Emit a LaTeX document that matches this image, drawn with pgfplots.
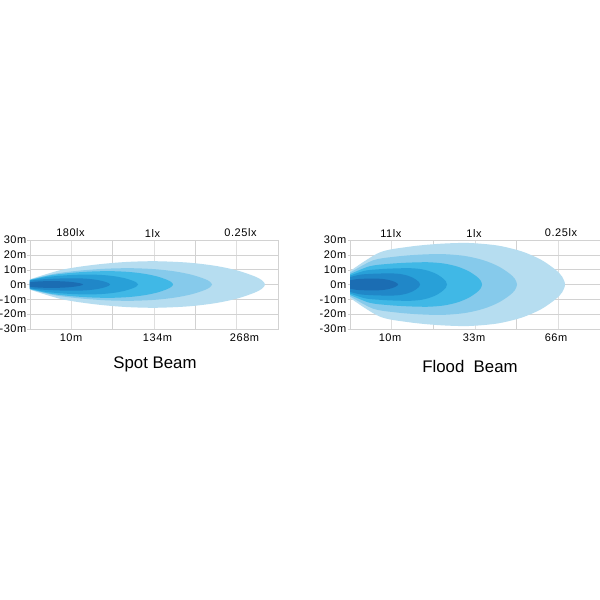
\documentclass[border=0pt]{standalone}
\usepackage{fontspec}
\setmainfont{Liberation Sans}
\newfontfamily\lblfont[LetterSpace=5]{Liberation Sans}
\usepackage{pgfplots}
\pgfplotsset{compat=1.18}
\definecolor{c1}{HTML}{B6DDF0}
\definecolor{c2}{HTML}{86CAEB}
\definecolor{c3}{HTML}{40B8E6}
\definecolor{c4}{HTML}{28A0D8}
\definecolor{c5}{HTML}{2087C8}
\definecolor{c6}{HTML}{1B6DB3}
\definecolor{gridc}{HTML}{D2D2D2}
\newcommand\lf{\lblfont\fontsize{11}{13}\selectfont}
\newcommand\tf{\fontsize{16.8}{19}\selectfont}
\pgfplotsset{beam/.style={
  scale only axis, height=89pt, ymin=-30, ymax=30, xmin=0,
  ytick={-30,-20,-10,0,10,20,30},
  yticklabels={-30m,-20m,-10m,0m,10m,20m,30m},
  yticklabel style={font=\lf, inner sep=1pt},
  xticklabels={}, xtick style={draw=none},
  ytick pos=left, tick align=outside, major tick length=2.5pt,
  ytick style={draw=gridc},
  grid=both, major grid style={draw=gridc, line width=0.6pt},
  minor grid style={draw=gridc!70, line width=0.5pt},
  axis line style={draw=gridc, line width=0.6pt},
  clip=false,
  beamfill/.style={draw=none, smooth}
}}
\begin{document}
\begin{tikzpicture}
\fill[white] (0pt,0pt) rectangle (600pt,600pt);
\path[use as bounding box] (0pt,0pt) rectangle (600pt,600pt);
% ---------------- Spot Beam ----------------
\begin{axis}[beam, at={(30pt,271pt)}, anchor=south west, width=248pt, xmax=248,
  xtick={0,82.67,165.33,248}, minor xtick={41.33,124,206.67}]
\addplot[fill=c1, beamfill] coordinates {(0,3.5) (31.3,9.84) (62.5,13.14) (93.8,15.09) (125,15.7) (158,14.76) (185.5,12.56) (207.5,9.42) (224,5.65) (231.7,2.98) (235,0) (231.7,-2.98) (224,-5.65) (207.5,-9.42) (185.5,-12.56) (158,-14.76) (125,-15.7) (93.8,-15.09) (62.5,-13.14) (31.3,-9.84) (0,-3.5)} -- cycle;
\addplot[fill=c2, beamfill] coordinates {(0,3.3) (25,7.3) (50,9.38) (75,10.62) (100,11) (124.6,10.34) (145.1,8.8) (161.5,6.6) (173.8,3.96) (179.5,2.09) (182,0) (179.5,-2.09) (173.8,-3.96) (161.5,-6.6) (145.1,-8.8) (124.6,-10.34) (100,-11) (75,-10.62) (50,-9.38) (25,-7.3) (0,-3.3)} -- cycle;
\addplot[fill=c3, beamfill] coordinates {(0,3.1) (20,6.17) (40,7.76) (60,8.71) (80,9) (98.9,8.46) (114.65,7.2) (127.25,5.4) (136.7,3.24) (141.1,1.71) (143,0) (141.1,-1.71) (136.7,-3.24) (127.25,-5.4) (114.65,-7.2) (98.9,-8.46) (80,-9) (60,-8.71) (40,-7.76) (20,-6.17) (0,-3.1)} -- cycle;
\addplot[fill=c4, beamfill] coordinates {(0,2.9) (15,4.88) (30,5.9) (45,6.51) (60,6.7) (74.4,6.3) (86.4,5.36) (96,4.02) (103.2,2.41) (106.6,1.27) (108,0) (106.6,-1.27) (103.2,-2.41) (96,-4.02) (86.4,-5.36) (74.4,-6.3) (60,-6.7) (45,-6.51) (30,-5.9) (15,-4.88) (0,-2.9)} -- cycle;
\addplot[fill=c5, beamfill] coordinates {(0,2.6) (11.25,3.43) (22.5,3.86) (33.75,4.12) (45,4.2) (55.5,3.95) (64.25,3.36) (71.25,2.52) (76.5,1.51) (78.95,0.8) (80,0) (78.95,-0.8) (76.5,-1.51) (71.25,-2.52) (64.25,-3.36) (55.5,-3.95) (45,-4.2) (33.75,-4.12) (22.5,-3.86) (11.25,-3.43) (0,-2.6)} -- cycle;
\addplot[fill=c6, beamfill] coordinates {(0,1.5) (5.5,1.92) (11,2.13) (16.5,2.26) (22,2.3) (31.3,2.16) (39.05,1.84) (45.25,1.38) (49.9,0.83) (52.07,0.44) (53,0) (52.07,-0.44) (49.9,-0.83) (45.25,-1.38) (39.05,-1.84) (31.3,-2.16) (22,-2.3) (16.5,-2.26) (11,-2.13) (5.5,-1.92) (0,-1.5)} -- cycle;
\node[font=\lf] at (axis cs:40.5,34.7) {180lx};
\node[font=\lf] at (axis cs:122.5,34.7) {1lx};
\node[font=\lf] at (axis cs:210.5,34.7) {0.25lx};
\node[font=\lf] at (axis cs:41,-36.1) {10m};
\node[font=\lf] at (axis cs:127.5,-36.1) {134m};
\node[font=\lf] at (axis cs:214.5,-36.1) {268m};
\node[font=\tf] at (axis cs:125,-53.6) {Spot Beam};
\end{axis}
% ---------------- Flood Beam ----------------
\begin{axis}[beam, at={(350pt,271pt)}, anchor=south west, width=250pt, xmax=250,
  xtick={0,83.33,166.67,250}, minor xtick={41.67,125,208.33}]
\addplot[fill=c1, beamfill] coordinates {(0,9) (29.5,21.56) (59,25.45) (88.5,27.39) (118,28) (147.1,26.32) (171.35,22.4) (190.75,16.8) (205.3,10.08) (212.1,5.32) (215,0) (212.1,-5.32) (205.3,-10.08) (190.75,-16.8) (171.35,-22.4) (147.1,-26.32) (118,-28) (88.5,-27.39) (59,-25.45) (29.5,-21.56) (0,-9)} -- cycle;
\addplot[fill=c2, beamfill] coordinates {(0,8) (23,16.26) (46,18.83) (69,20.1) (92,20.5) (114.5,19.27) (133.25,16.4) (148.25,12.3) (159.5,7.38) (164.75,3.9) (167,0) (164.75,-3.9) (159.5,-7.38) (148.25,-12.3) (133.25,-16.4) (114.5,-19.27) (92,-20.5) (69,-20.1) (46,-18.83) (23,-16.26) (0,-8)} -- cycle;
\addplot[fill=c3, beamfill] coordinates {(0,7) (19.5,12.29) (39,13.93) (58.5,14.74) (78,15) (94.2,14.1) (107.7,12) (118.5,9) (126.6,5.4) (130.4,2.85) (132,0) (130.4,-2.85) (126.6,-5.4) (118.5,-9) (107.7,-12) (94.2,-14.1) (78,-15) (58.5,-14.74) (39,-13.93) (19.5,-12.29) (0,-7)} -- cycle;
\addplot[fill=c4, beamfill] coordinates {(0,6) (15,9.31) (30,10.33) (45,10.84) (60,11) (71.1,10.34) (80.35,8.8) (87.75,6.6) (93.3,3.96) (95.9,2.09) (97,0) (95.9,-2.09) (93.3,-3.96) (87.75,-6.6) (80.35,-8.8) (71.1,-10.34) (60,-11) (45,-10.84) (30,-10.33) (15,-9.31) (0,-6)} -- cycle;
\addplot[fill=c5, beamfill] coordinates {(0,5) (10.5,6.65) (21,7.17) (31.5,7.42) (42,7.5) (50.4,7.05) (57.4,6) (63,4.5) (67.2,2.7) (69.2,1.43) (70,0) (69.2,-1.43) (67.2,-2.7) (63,-4.5) (57.4,-6) (50.4,-7.05) (42,-7.5) (31.5,-7.42) (21,-7.17) (10.5,-6.65) (0,-5)} -- cycle;
\addplot[fill=c6, beamfill] coordinates {(0,2.8) (6.25,3.59) (12.5,3.84) (18.75,3.96) (25,4) (31.9,3.76) (37.65,3.2) (42.25,2.4) (45.7,1.44) (47.3,0.76) (48,0) (47.3,-0.76) (45.7,-1.44) (42.25,-2.4) (37.65,-3.2) (31.9,-3.76) (25,-4) (18.75,-3.96) (12.5,-3.84) (6.25,-3.59) (0,-2.8)} -- cycle;
\node[font=\lf] at (axis cs:40.8,34.7) {11lx};
\node[font=\lf] at (axis cs:124,34.7) {1lx};
\node[font=\lf] at (axis cs:211,34.7) {0.25lx};
\node[font=\lf] at (axis cs:40,-36.1) {10m};
\node[font=\lf] at (axis cs:124,-36.1) {33m};
\node[font=\lf] at (axis cs:206,-36.1) {66m};
\node[font=\tf] at (axis cs:120,-55.6) {Flood~~Beam};
\end{axis}
\end{tikzpicture}
\end{document}
